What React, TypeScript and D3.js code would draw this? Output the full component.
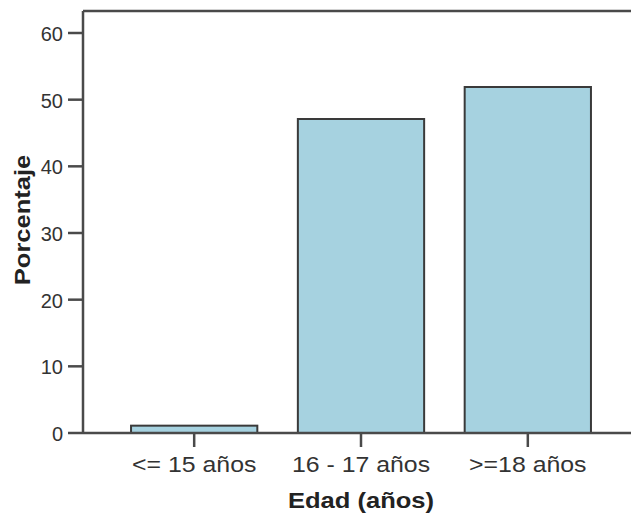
import React from "react";
import * as d3 from "d3";

const categories = ["<= 15 años", "16 - 17 años", ">=18 años"];
const values = [1.1, 47.1, 51.9];
const yTicks = [0, 10, 20, 30, 40, 50, 60];

const W = 631;
const H = 517;
const left = 83;
const top = 11;
const bottom = 433;
const rightRange = 639;

export default function App() {
  const x = d3
    .scaleBand<string>()
    .domain(categories)
    .range([left, rightRange])
    .paddingInner(0.243)
    .paddingOuter(0.288);
  const y = d3.scaleLinear().domain([0, 63.3]).range([bottom, top]);
  const font = "'Liberation Sans', Arial, sans-serif";
  const axisColor = "#4a4a4a";

  return (
    <svg
      width={W}
      height={H}
      style={{ position: "absolute", left: 0, top: 0, background: "#fff" }}
      fontFamily={font}
    >
      {/* bars */}
      {categories.map((c, i) => (
        <rect
          key={c}
          x={x(c)!}
          y={y(values[i])}
          width={x.bandwidth()}
          height={y(0) - y(values[i])}
          fill="#a6d2e0"
          stroke="#3a3a3a"
          strokeWidth={2}
        />
      ))}
      {/* frame */}
      <line x1={left} x2={W} y1={top} y2={top} stroke={axisColor} strokeWidth={2.5} />
      <line x1={left} x2={left} y1={top} y2={bottom} stroke={axisColor} strokeWidth={2.5} />
      <line x1={left} x2={W} y1={bottom} y2={bottom} stroke={axisColor} strokeWidth={2.5} />
      {/* y ticks */}
      {yTicks.map((t) => (
        <g key={t}>
          <line x1={left - 15} x2={left} y1={y(t)} y2={y(t)} stroke={axisColor} strokeWidth={2.5} />
          <text
            x={left - 20}
            y={y(t)}
            dy="0.4em"
            textAnchor="end"
            fontSize={20}
            fill="#333"
          >
            {t}
          </text>
        </g>
      ))}
      {/* x ticks */}
      {categories.map((c) => {
        const cx = x(c)! + x.bandwidth() / 2;
        return (
          <g key={c}>
            <line x1={cx} x2={cx} y1={bottom} y2={bottom + 14} stroke={axisColor} strokeWidth={2.5} />
            <text
              transform={`translate(${cx}, 472) scale(1.13, 1)`}
              textAnchor="middle"
              fontSize={22}
              fill="#333"
            >
              {c}
            </text>
          </g>
        );
      })}
      {/* axis titles */}
      <text
        transform="translate(361, 508) scale(1.16, 1)"
        textAnchor="middle"
        fontSize={22}
        fontWeight="bold"
        fill="#222"
      >
        Edad (años)
      </text>
      <text
        transform="translate(30, 220) rotate(-90) scale(1.16, 1)"
        textAnchor="middle"
        fontSize={22}
        fontWeight="bold"
        fill="#222"
      >
        Porcentaje
      </text>
    </svg>
  );
}
